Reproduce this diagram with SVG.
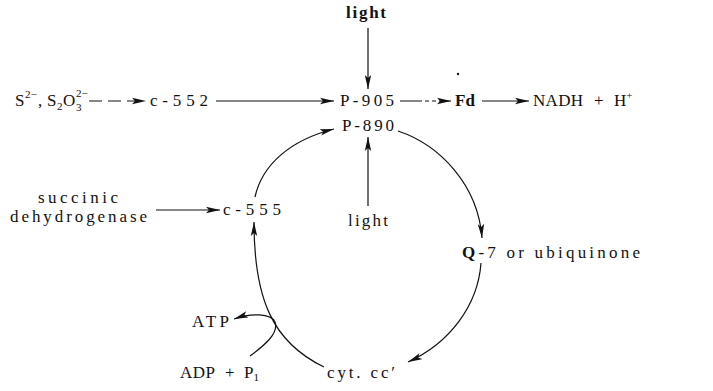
<svg xmlns="http://www.w3.org/2000/svg" width="713" height="391" viewBox="0 0 713 391">
<style>
text{font-family:"Liberation Serif","DejaVu Serif",serif;font-size:17px;fill:#111}
.b{font-weight:bold}
.s{font-size:11px}
.c{fill:none;stroke:#111;stroke-width:1.2}
</style>
<defs>
<marker id="ah" markerUnits="userSpaceOnUse" markerWidth="15" markerHeight="8" refX="14" refY="4" orient="auto">
<path d="M0,0.8 L14,4 L0,7.2 L3,4 z" fill="#111"/>
</marker>
</defs>
<rect width="713" height="391" fill="#fff"/>
<g id="connectors">
<path class="c" d="M368,28 V89" marker-end="url(#ah)"/>
<path class="c" d="M89,101 H146" stroke-dasharray="13 6" marker-end="url(#ah)"/>
<path class="c" d="M216,101 H334" marker-end="url(#ah)"/>
<path class="c" d="M400,101 H451" stroke-dasharray="22 3 4 3 4 3 40" marker-end="url(#ah)"/>
<path class="c" d="M482,101 H529" marker-end="url(#ah)"/>
<path class="c" d="M368,206 V137" marker-end="url(#ah)"/>
<path class="c" d="M156,210 H220" marker-end="url(#ah)"/>
<path class="c" d="M255,197 C262,165 290,140 334,129" marker-end="url(#ah)"/>
<path class="c" d="M398,131 C440,145 478,185 482,238" marker-end="url(#ah)"/>
<path class="c" d="M481,263 C478,305 450,343 408,362" marker-end="url(#ah)"/>
<path class="c" d="M324,367 C272,342 254,298 254,222" marker-end="url(#ah)"/>
<path class="c" d="M250,356 C265,345 279,333 275,322 C271,313 251,313 234,319" marker-end="url(#ah)"/>
<circle cx="458" cy="74" r="1.2" fill="#111"/>
</g>
<g id="light-top"><text class="b" x="346" y="18" textLength="40">light</text></g>
<g id="sulfide"><text x="15" y="106">S</text><text class="s" x="25" y="98">2−</text><text x="38" y="106">,</text><text x="47" y="106">S</text><text class="s" x="57" y="110">2</text><text x="63" y="106">O</text><text class="s" x="76" y="111">3</text><text class="s" x="76" y="97">2−</text></g>
<g id="c552"><text x="150" y="106" textLength="58">c-552</text></g>
<g id="p905"><text x="340" y="106" textLength="54">P-905</text></g>
<g id="fd"><text class="b" x="455" y="106" textLength="20">Fd</text></g>
<g id="nadh"><text x="533" y="106"><tspan textLength="50">NADH</tspan><tspan x="594">+</tspan><tspan x="614">H</tspan><tspan class="s" dy="-7">+</tspan></text></g>
<g id="p890"><text x="342" y="131" textLength="52">P-890</text></g>
<g id="light-bottom"><text x="348" y="226" textLength="40">light</text></g>
<g id="succ"><text x="38" y="203" textLength="80">succinic</text><text x="10" y="222" textLength="137">dehydrogenase</text></g>
<g id="c555"><text x="223" y="215" textLength="58">c-555</text></g>
<g id="q7"><text x="462" y="258" textLength="178"><tspan class="b">Q</tspan>-7  or  ubiquinone</text></g>
<g id="atp"><text x="192" y="327" textLength="37">ATP</text></g>
<g id="adp"><text x="180" y="378"><tspan textLength="35">ADP</tspan><tspan x="225">+</tspan><tspan x="244">P</tspan><tspan class="s" dy="3">1</tspan></text></g>
<g id="cyt"><text x="327" y="378" textLength="68">cyt. cc′</text></g>
</svg>
